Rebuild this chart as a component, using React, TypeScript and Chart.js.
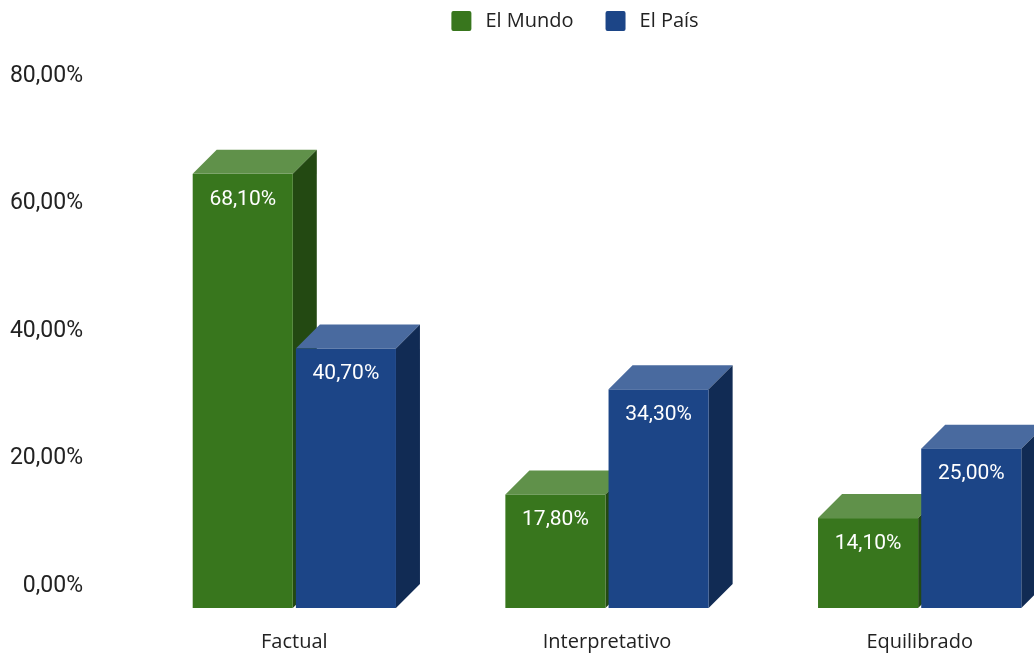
import React, { useEffect, useRef } from 'react';
import { Chart, registerables } from 'chart.js';

Chart.register(...registerables);

const categories = ['Factual', 'Interpretativo', 'Equilibrado'];
const seriesNames = ['El Mundo', 'El País'];
const elMundo = [68.1, 17.8, 14.1];
const elPais = [40.7, 34.3, 25.0];
const yTicks = [0, 20, 40, 60, 80];

const frontColors = ['#38761d', '#1c4587'];
const topColors = ['#60914a', '#496a9f'];
const sideColors = ['#234912', '#112b54'];

const DEPTH = 24;
const TEXT_COLOR = '#222222';
const LABEL_FONT = '"Open Sans", "Noto Sans", sans-serif';
const NUM_FONT = 'Roboto, "Noto Sans", sans-serif';

const fmt = (v: number) => Number(v).toFixed(2).replace('.', ',') + '%';

const bars3d = {
  id: 'bars3d',
  beforeDatasetsDraw(chart: any) {
    const ctx = chart.ctx as CanvasRenderingContext2D;
    const d = DEPTH;
    ctx.save();
    chart.data.datasets.forEach((ds: any, di: number) => {
      const meta = chart.getDatasetMeta(di);
      meta.data.forEach((el: any) => {
        const { x, y, base, width } = el.getProps(['x', 'y', 'base', 'width'], true);
        const l = x - width / 2;
        const r = x + width / 2;
        // top face
        ctx.fillStyle = topColors[di];
        ctx.beginPath();
        ctx.moveTo(l - d, y + d);
        ctx.lineTo(l, y);
        ctx.lineTo(r, y);
        ctx.lineTo(r - d, y + d);
        ctx.closePath();
        ctx.fill();
        // side face
        ctx.fillStyle = sideColors[di];
        ctx.beginPath();
        ctx.moveTo(r - d, y + d);
        ctx.lineTo(r, y);
        ctx.lineTo(r, base);
        ctx.lineTo(r - d, base + d);
        ctx.closePath();
        ctx.fill();
        // front face
        ctx.fillStyle = frontColors[di];
        ctx.fillRect(l - d, y + d, width, base - y);
      });
    });
    // value labels
    ctx.font = `21px ${NUM_FONT}`;
    ctx.fillStyle = '#ffffff';
    ctx.textAlign = 'center';
    ctx.textBaseline = 'middle';
    chart.data.datasets.forEach((ds: any, di: number) => {
      const meta = chart.getDatasetMeta(di);
      meta.data.forEach((el: any, i: number) => {
        const { x, y } = el.getProps(['x', 'y'], true);
        ctx.fillText(fmt(ds.data[i]), x - d, y + d + 25.5);
      });
    });
    ctx.restore();
    return false;
  },
};

const legend3d = {
  id: 'legend3d',
  afterDraw(chart: any) {
    const ctx = chart.ctx as CanvasRenderingContext2D;
    ctx.save();
    ctx.font = `20px ${LABEL_FONT}`;
    const box = 20;
    const gapText = 14;
    const gapItem = 32;
    const items = chart.data.datasets.map((ds: any, i: number) => ({
      text: ds.label as string,
      color: frontColors[i],
      w: box + gapText + ctx.measureText(ds.label).width,
    }));
    const total = items.reduce((s: number, it: any) => s + it.w, 0) + gapItem * (items.length - 1);
    let x = chart.width / 2 - 2 - total / 2;
    const cy = 21;
    items.forEach((it: any) => {
      ctx.fillStyle = it.color;
      ctx.beginPath();
      (ctx as any).roundRect(x, cy - box / 2, box, box, 2);
      ctx.fill();
      ctx.fillStyle = TEXT_COLOR;
      ctx.textAlign = 'left';
      ctx.textBaseline = 'middle';
      ctx.fillText(it.text, x + box + gapText, cy);
      x += it.w + gapItem;
    });
    ctx.restore();
  },
};

export default function App() {
  const canvasRef = useRef<HTMLCanvasElement | null>(null);

  useEffect(() => {
    let chart: Chart | null = null;
    let cancelled = false;
    const make = () => {
      if (cancelled || !canvasRef.current) return;
      chart = new Chart(canvasRef.current, {
        type: 'bar',
        data: {
          labels: categories,
          datasets: [
            { label: seriesNames[0], data: elMundo, backgroundColor: frontColors[0] },
            { label: seriesNames[1], data: elPais, backgroundColor: frontColors[1] },
          ],
        },
        options: {
          animation: false,
          responsive: false,
          devicePixelRatio: 1,
          layout: { padding: { top: 74, right: 54, left: 0, bottom: 0 } },
          datasets: { bar: { categoryPercentage: 0.66, barPercentage: 0.97 } },
          plugins: { legend: { display: false }, tooltip: { enabled: false } },
          scales: {
            x: {
              grid: { display: false, drawTicks: false },
              border: { display: false },
              ticks: {
                font: { family: LABEL_FONT, size: 20 },
                color: TEXT_COLOR,
                padding: 46,
                labelOffset: -DEPTH,
                maxRotation: 0,
                autoSkip: false,
              },
              afterFit: (s: any) => {
                s.height = 71;
                s.paddingLeft = 0;
                s.paddingRight = 0;
              },
            },
            y: {
              min: 0,
              max: 80,
              grid: { display: false, drawTicks: false },
              border: { display: false },
              ticks: {
                font: { family: NUM_FONT, size: 23 },
                color: TEXT_COLOR,
                padding: 79,
                labelOffset: 2,
                callback: (v: any) => fmt(v),
              },
              afterBuildTicks: (s: any) => {
                s.ticks = yTicks.map((v) => ({ value: v }));
              },
              afterFit: (s: any) => {
                s.width = 162;
                s.paddingTop = 0;
                s.paddingBottom = 0;
              },
            },
          },
        } as any,
        plugins: [bars3d, legend3d],
      });
    };
    const fontsApi = (document as any).fonts;
    if (fontsApi && fontsApi.load) {
      Promise.all([
        fontsApi.load('20px "Open Sans"'),
        fontsApi.load('23px Roboto'),
      ]).then(make, make);
    } else {
      make();
    }
    return () => {
      cancelled = true;
      if (chart) chart.destroy();
    };
  }, []);

  return (
    <div
      style={{
        position: 'absolute',
        left: 0,
        top: 0,
        width: 1034,
        height: 655,
        overflow: 'hidden',
        background: '#ffffff',
      }}
    >
      <canvas ref={canvasRef} width={1154} height={655} style={{ width: 1154, height: 655, display: 'block' }} />
    </div>
  );
}
